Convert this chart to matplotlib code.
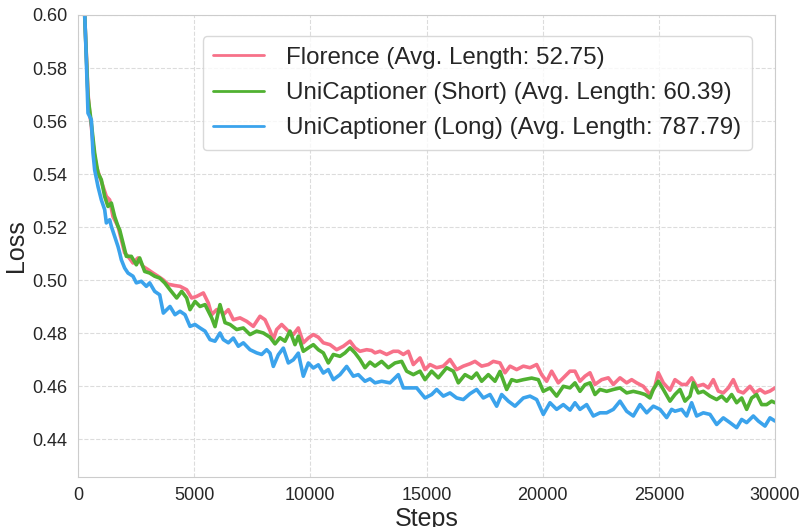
import matplotlib
matplotlib.use("Agg")
import matplotlib.pyplot as plt
import seaborn as sns

# ---------------- data ----------------
florence_steps = [250, 287, 430, 502, 574, 645, 717, 789, 933, 1076, 1220, 1363, 1506, 1722, 1865,
                  2008, 2152, 2367, 2582, 2798, 3013, 3228, 3443, 3659, 3874, 4161, 4390, 4677, 4893,
                  5108, 5395, 5610, 5754, 5969, 6112, 6256, 6471, 6686, 6973, 7260, 7546, 7833, 8049,
                  8264, 8407, 8551, 8766, 9053, 9268, 9483, 9698, 9914, 10129, 10344, 10559, 10846,
                  11133, 11420, 11707, 11922, 12137, 12424, 12639, 12783, 12998, 13285, 13572, 13787,
                  14003, 14218, 14433, 14720, 14935, 15150, 15437, 15724, 16011, 16298, 16585, 16872,
                  17087, 17374, 17661, 17876, 18163, 18379, 18594, 18881, 19168, 19455, 19741, 19956,
                  20171, 20386, 20673, 20888, 21175, 21391, 21606, 21821, 22037, 22252, 22539, 22826,
                  23041, 23328, 23615, 23830, 24045, 24332, 24619, 24834, 24978, 25193, 25480, 25695,
                  25982, 26197, 26412, 26628, 26915, 27130, 27345, 27560, 27775, 27991, 28206, 28421,
                  28636, 28923, 29138, 29354, 29569, 29784, 30000]
florence_loss = [0.606, 0.600, 0.5705, 0.563, 0.558, 0.5517, 0.5467, 0.5429, 0.5391, 0.5353, 0.5316,
                 0.5303, 0.524, 0.5203, 0.5153, 0.5103, 0.509, 0.5065, 0.5084, 0.5052, 0.504, 0.5027,
                 0.5015, 0.5002, 0.4985, 0.4980, 0.4977, 0.4964, 0.4933, 0.4939, 0.4952, 0.4914,
                 0.4870, 0.4889, 0.4890, 0.4870, 0.4889, 0.4851, 0.4858, 0.4845, 0.4826, 0.4864,
                 0.4851, 0.4810, 0.4776, 0.4814, 0.4833, 0.4808, 0.4795, 0.4820, 0.4764, 0.4782,
                 0.4795, 0.4785, 0.4764, 0.4757, 0.4738, 0.4751, 0.4770, 0.4745, 0.4732, 0.4738,
                 0.4735, 0.4726, 0.4732, 0.4720, 0.4732, 0.4732, 0.4720, 0.4732, 0.4682, 0.4707,
                 0.4663, 0.4682, 0.4670, 0.4676, 0.4701, 0.4663, 0.4676, 0.4685, 0.4694, 0.4676,
                 0.4682, 0.4694, 0.4688, 0.4651, 0.4676, 0.4663, 0.4676, 0.4670, 0.4682, 0.4644,
                 0.4619, 0.4657, 0.4613, 0.4632, 0.4657, 0.4657, 0.4619, 0.4638, 0.4651, 0.4607,
                 0.4625, 0.4632, 0.4607, 0.4632, 0.4613, 0.4625, 0.4613, 0.4600, 0.4569, 0.4600,
                 0.4651, 0.4613, 0.4585, 0.4625, 0.4607, 0.4607, 0.4632, 0.4600, 0.4607, 0.4594,
                 0.4625, 0.4582, 0.4575, 0.4594, 0.4625, 0.4582, 0.4575, 0.4600, 0.4575, 0.4588,
                 0.4575, 0.4582, 0.4594]

short_steps = [250, 287, 430, 574, 717, 861, 1004, 1148, 1291, 1435, 1578, 1722, 1794, 1937, 2081,
               2296, 2511, 2654, 2870, 3085, 3300, 3516, 3731, 3960, 4247, 4462, 4677, 4821, 5037,
               5252, 5467, 5610, 5754, 5897, 6112, 6328, 6543, 6830, 7116, 7403, 7690, 7977, 8264,
               8479, 8694, 8909, 9125, 9340, 9483, 9698, 9914, 10129, 10344, 10559, 10774, 10990,
               11277, 11492, 11707, 11922, 12137, 12352, 12568, 12783, 13070, 13357, 13644, 13931,
               14146, 14433, 14720, 14935, 15222, 15509, 15868, 16155, 16370, 16657, 16944, 17159,
               17374, 17661, 17948, 18163, 18450, 18666, 18881, 19168, 19526, 19813, 20028, 20314,
               20601, 20888, 21175, 21391, 21606, 21821, 22037, 22252, 22467, 22754, 23041, 23328,
               23615, 23902, 24189, 24404, 24619, 24763, 24978, 25193, 25480, 25695, 25910, 26125,
               26341, 26484, 26699, 26915, 27202, 27489, 27704, 27919, 28134, 28349, 28565, 28780,
               28995, 29210, 29425, 29641, 29856, 30000]
short_loss = [0.606, 0.600, 0.5692, 0.5592, 0.5479, 0.5404, 0.5379, 0.5316, 0.5278, 0.5291, 0.5240,
              0.5203, 0.5190, 0.5140, 0.5090, 0.5090, 0.5058, 0.5084, 0.5033, 0.5027, 0.5015,
              0.5008, 0.4990, 0.4964, 0.4933, 0.4958, 0.4933, 0.4889, 0.4920, 0.4901, 0.4908,
              0.4883, 0.4858, 0.4825, 0.4908, 0.4840, 0.4833, 0.4814, 0.4820, 0.4795, 0.4808,
              0.4801, 0.4785, 0.4760, 0.4783, 0.4770, 0.4808, 0.4757, 0.4789, 0.4732, 0.4745,
              0.4757, 0.4738, 0.4726, 0.4688, 0.4720, 0.4713, 0.4726, 0.4745, 0.4726, 0.4701,
              0.4670, 0.4691, 0.4676, 0.4694, 0.4670, 0.4688, 0.4694, 0.4657, 0.4644, 0.4657,
              0.4625, 0.4657, 0.4632, 0.4670, 0.4657, 0.4613, 0.4644, 0.4630, 0.4650, 0.4619,
              0.4644, 0.4619, 0.4656, 0.4588, 0.4625, 0.4619, 0.4625, 0.4631, 0.4625, 0.4581,
              0.4594, 0.4563, 0.4600, 0.4594, 0.4613, 0.4581, 0.4606, 0.4613, 0.4569, 0.4588,
              0.4581, 0.4588, 0.4594, 0.4575, 0.4581, 0.4575, 0.4569, 0.4556, 0.4588, 0.4619,
              0.4588, 0.4544, 0.4569, 0.4588, 0.4544, 0.4563, 0.4613, 0.4575, 0.4581, 0.4563,
              0.4550, 0.4563, 0.4544, 0.4569, 0.4538, 0.4556, 0.4513, 0.4556, 0.4569, 0.4531,
              0.4531, 0.4544, 0.4538]

long_steps = [250, 359, 430, 574, 645, 717, 861, 1004, 1148, 1220, 1363, 1435, 1578, 1722, 1794,
              1865, 2008, 2152, 2367, 2511, 2726, 2941, 3085, 3300, 3516, 3673, 3960, 4175, 4390,
              4606, 4821, 5037, 5252, 5467, 5682, 5897, 6112, 6256, 6471, 6686, 6901, 7116, 7403,
              7690, 7905, 8120, 8264, 8407, 8622, 8838, 9053, 9268, 9483, 9698, 9914, 10129,
              10344, 10559, 10774, 10990, 11277, 11563, 11850, 12065, 12352, 12568, 12783, 13070,
              13429, 13787, 14003, 14290, 14577, 14935, 15222, 15437, 15724, 16011, 16298, 16585,
              16872, 17159, 17446, 17733, 18020, 18235, 18522, 18809, 19168, 19455, 19741, 20028,
              20314, 20601, 20888, 21175, 21391, 21606, 21893, 22180, 22467, 22754, 23041, 23328,
              23615, 23902, 24189, 24476, 24763, 25050, 25336, 25551, 25695, 25982, 26197, 26412,
              26628, 26915, 27202, 27489, 27775, 28062, 28349, 28565, 28780, 29067, 29282, 29569,
              29784, 30000]
long_loss = [0.610, 0.583, 0.563, 0.5605, 0.548, 0.5416, 0.5353, 0.5303, 0.5266, 0.5216, 0.5228,
             0.5203, 0.5165, 0.5127, 0.5103, 0.5077, 0.5046, 0.5027, 0.5015, 0.4990, 0.4996,
             0.4977, 0.4990, 0.4958, 0.4945, 0.4876, 0.4901, 0.4870, 0.4883, 0.4870, 0.4826,
             0.4833, 0.4820, 0.4808, 0.4776, 0.4770, 0.4801, 0.4776, 0.4764, 0.4782, 0.4751,
             0.4764, 0.4738, 0.4726, 0.4720, 0.4738, 0.4725, 0.4675, 0.4719, 0.4744, 0.4688,
             0.4700, 0.4725, 0.4638, 0.4688, 0.4669, 0.4681, 0.4650, 0.4663, 0.4625, 0.4644,
             0.4675, 0.4638, 0.4644, 0.4619, 0.4628, 0.4613, 0.4619, 0.4613, 0.4644, 0.4594,
             0.4594, 0.4594, 0.4556, 0.4569, 0.4588, 0.4563, 0.4575, 0.4556, 0.4550, 0.4572,
             0.4588, 0.4556, 0.4569, 0.4525, 0.4569, 0.4544, 0.4525, 0.4556, 0.4563, 0.4550,
             0.4494, 0.4538, 0.4513, 0.4531, 0.4510, 0.4538, 0.4513, 0.4531, 0.4488, 0.4500,
             0.4500, 0.4513, 0.4544, 0.4506, 0.4488, 0.4531, 0.4500, 0.4525, 0.4513, 0.4482,
             0.4513, 0.4506, 0.4513, 0.4488, 0.4538, 0.4488, 0.4500, 0.4494, 0.4456, 0.4481,
             0.4463, 0.4444, 0.4475, 0.4463, 0.4488, 0.4469, 0.4450, 0.4481, 0.4469]

labels = ["Florence (Avg. Length: 52.75)",
          "UniCaptioner (Short) (Avg. Length: 60.39)",
          "UniCaptioner (Long) (Avg. Length: 787.79)"]

# ---------------- style ----------------
sns.set_style("whitegrid", {"grid.linestyle": "--"})
plt.rcParams["font.family"] = ["Liberation Sans", "DejaVu Sans"]
colors = sns.color_palette("husl", 3)

fig = plt.figure(figsize=(8.04, 5.27), dpi=100)
ax = fig.add_axes([78 / 804, 1 - 477 / 527, 697 / 804, 462 / 527])

series = [(florence_steps, florence_loss), (short_steps, short_loss), (long_steps, long_loss)]
for (s, v), c, lab in zip(series, colors, labels):
    ax.plot(s, v, color=c, lw=2.6, label=lab)

ax.set_xlim(0, 30000)
ax.set_ylim(0.4258, 0.60)
ax.set_xticks([0, 5000, 10000, 15000, 20000, 25000, 30000])
ax.set_yticks([0.44, 0.46, 0.48, 0.50, 0.52, 0.54, 0.56, 0.58, 0.60])
ax.yaxis.set_major_formatter(matplotlib.ticker.FormatStrFormatter("%.2f"))
ax.tick_params(labelsize=13, colors="#262626", pad=4)
ax.set_xlabel("Steps", fontsize=18, color="#262626", labelpad=2)
ax.set_ylabel("Loss", fontsize=18, color="#262626", labelpad=3)
ax.grid(True, linestyle="--", color="#dcdcdc", lw=0.8)
for sp in ax.spines.values():
    sp.set_color("#cccccc")

leg = ax.legend(loc="upper right", bbox_to_anchor=(0.967, 0.9545), borderaxespad=0,
                fontsize=17.4, frameon=True, handlelength=2.1, handletextpad=0.9,
                labelspacing=0.55, borderpad=0.45)
leg.get_frame().set_edgecolor("#d0d0d0")
for h in leg.get_lines():
    h.set_linewidth(2.0)

fig.savefig("out.png", dpi=100)
